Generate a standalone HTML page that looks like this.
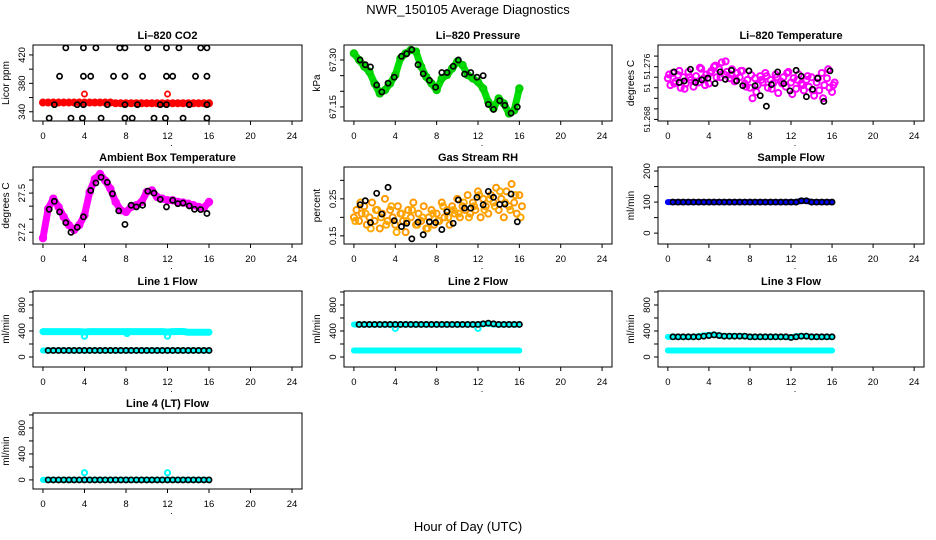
<!DOCTYPE html>
<html><head><meta charset="utf-8"><style>
html,body{margin:0;padding:0;background:#fff}
svg{display:block;font-family:"Liberation Sans",sans-serif}
</style></head><body>
<svg id="chart" width="936" height="540" viewBox="0 0 936 540" xmlns="http://www.w3.org/2000/svg">
<rect width="936" height="540" fill="#fff"/>
<text x="468" y="14" text-anchor="middle" font-size="13">NWR_150105  Average Diagnostics</text>
<text x="468" y="531" text-anchor="middle" font-size="13">Hour of Day (UTC)</text>
</svg>
<script>
// ---- data ----
const halfHours=[0,0.5,1,1.5,2,2.5,3,3.5,4,4.5,5,5.5,6,6.5,7,7.5,8,8.5,9,9.5,10,10.5,11,11.5,12,12.5,13,13.5,14,14.5,15,15.5,16];
const halfHoursB=[0.125,0.625,1.125,1.625,2.125,2.625,3.125,3.625,4.125,4.625,5.125,5.625,6.125,6.625,7.125,7.625,8.125,8.625,9.125,9.625,10.125,10.625,11.125,11.625,12.125,12.625,13.125,13.625,14.125,14.625,15.125,15.625,16.125];
const quarterHours=[0,0.25,0.5,0.75,1,1.25,1.5,1.75,2,2.25,2.5,2.75,3,3.25,3.5,3.75,4,4.25,4.5,4.75,5,5.25,5.5,5.75,6,6.25,6.5,6.75,7,7.25,7.5,7.75,8,8.25,8.5,8.75,9,9.25,9.5,9.75,10,10.25,10.5,10.75,11,11.25,11.5,11.75,12,12.25,12.5,12.75,13,13.25,13.5,13.75,14,14.25,14.5,14.75,15,15.25,15.5,15.75,16,16.25];
const blackHours=[0.6,1.1,1.6,2.2,2.7,3.3,3.9,4.6,5.1,5.6,6.2,6.7,7.3,7.9,8.5,9.0,9.6,10.1,10.7,11.3,11.9,12.5,13.0,13.5,14.1,14.6,15.2,15.8];
const flowBlackHours=[0.5,1,1.5,2,2.5,3,3.5,4,4.5,5,5.5,6,6.5,7,7.5,8,8.5,9,9.5,10,10.5,11,11.5,12,12.5,13,13.5,14,14.5,15,15.5,16];
const xTicks=[0,4,8,12,16,20,24];

const co2Red=[353,353,353,353,353,353,353,353,353,353,353,353,353,353,352,352,352,352,352,352,352,352,352,352,352,352,352,352,352,352,352,352,352];
const co2SpikeH=[4,12];
const co2SpikeV=[365,365];
const co2BlackH=[2.2,3.9,5.1,7.4,7.9,10.1,11.9,13.1,15.2,15.8,1.6,3.9,4.6,6.8,7.9,9.6,11.9,12.5,14.7,15.8,1.1,3.3,3.9,6.2,7.9,9.1,11.3,11.9,14.1,15.8,0.6,2.7,3.8,5.6,7.9,8.6,10.7,11.8,13.5,15.8];
const co2BlackV=[430,430,430,430,430,430,430,430,430,430,390,390,390,390,390,390,390,390,390,390,350,350,350,350,350,350,350,350,350,350,331,331,331,331,331,331,331,331,331,331];

const presGreen=[67.321,67.300,67.279,67.262,67.225,67.193,67.204,67.225,67.252,67.305,67.321,67.332,67.327,67.279,67.246,67.225,67.204,67.241,67.252,67.273,67.295,67.284,67.252,67.241,67.230,67.209,67.166,67.145,67.177,67.161,67.129,67.139,67.209];
const presBlack=[67.30,67.285,67.278,67.22,67.198,67.226,67.245,67.312,67.32,67.333,67.285,67.256,67.235,67.213,67.26,67.26,67.28,67.30,67.255,67.26,67.245,67.25,67.158,67.142,67.17,67.155,67.13,67.15];

const tempPink=[51.2738,51.2725,51.2748,51.2732,51.2744,51.2720,51.2740,51.2728,51.2750,51.2735,51.2722,51.2742,51.2730,51.2756,51.2738,51.2745,51.2728,51.2752,51.2760,51.2740,51.2755,51.2768,51.2745,51.2750,51.2738,51.2755,51.2732,51.2748,51.2740,51.2752,51.2728,51.2735,51.2720,51.2700,51.2738,51.2725,51.2742,51.2730,51.2748,51.2720,51.2735,51.2728,51.2745,51.2710,51.2732,51.2740,51.2722,51.2750,51.2730,51.2738,51.2718,51.2745,51.2728,51.2715,51.2735,51.2722,51.2740,51.2705,51.2730,51.2715,51.2748,51.2725,51.2738,51.2720,51.2712,51.2730];
const tempPink2=[51.2745,51.2728,51.2752,51.2718,51.2740,51.2732,51.2758,51.2725,51.2748,51.2762,51.2740,51.2770,51.2745,51.2735,51.2752,51.2722,51.2744,51.2712,51.2735,51.2742,51.2718,51.2740,51.2728,51.2748,51.2708,51.2735,51.2725,51.2742,51.2715,51.2738,51.2700,51.2755,51.2725];
const tempBlack=[51.2750,51.2730,51.2733,51.2755,51.2730,51.2735,51.2738,51.2728,51.2750,51.2736,51.2753,51.2733,51.2724,51.2752,51.2724,51.2705,51.2685,51.2726,51.2750,51.2728,51.2714,51.2753,51.2742,51.2703,51.2717,51.2738,51.2694,51.2752];

const ambPink=[27.155,27.38,27.457,27.394,27.318,27.255,27.218,27.255,27.331,27.508,27.608,27.646,27.596,27.533,27.432,27.369,27.356,27.394,27.407,27.432,27.508,27.520,27.470,27.457,27.445,27.445,27.432,27.427,27.419,27.407,27.394,27.387,27.432];
const ambBlack=[27.376,27.437,27.356,27.273,27.200,27.238,27.318,27.520,27.578,27.621,27.583,27.495,27.364,27.260,27.407,27.394,27.407,27.515,27.500,27.452,27.394,27.445,27.419,27.424,27.402,27.376,27.374,27.344];

const rhOrange=[0.20,0.22,0.19,0.21,0.23,0.18,0.20,0.24,0.19,0.22,0.17,0.21,0.25,0.19,0.22,0.20,0.18,0.23,0.21,0.19,0.16,0.22,0.20,0.24,0.18,0.21,0.19,0.23,0.17,0.20,0.22,0.18,0.21,0.19,0.24,0.20,0.22,0.18,0.23,0.21,0.25,0.20,0.23,0.22,0.26,0.21,0.24,0.22,0.27,0.20,0.25,0.23,0.21,0.26,0.24,0.28,0.22,0.25,0.20,0.27,0.23,0.29,0.24,0.21,0.26,0.23];
const rhOrange2=[0.19,0.24,0.21,0.17,0.22,0.20,0.18,0.23,0.16,0.21,0.19,0.22,0.18,0.20,0.17,0.21,0.19,0.23,0.20,0.22,0.21,0.24,0.20,0.23,0.26,0.22,0.25,0.23,0.27,0.24,0.22,0.26,0.20];
const rhBlack=[0.234,0.245,0.186,0.265,0.209,0.281,0.191,0.175,0.184,0.142,0.187,0.153,0.188,0.186,0.167,0.215,0.184,0.247,0.225,0.225,0.254,0.234,0.270,0.254,0.235,0.236,0.263,0.188];

const sampleBlue=[100,100,100,100,100,100,100,100,100,100,100,100,100,100,100,100,100,100,100,100,100,100,100,100,100,100,104,104,100,100,100,100,100];
const sampleBlack=[100,100,100,100,100,100,100,100,100,100,100,100,100,100,100,100,100,100,100,100,100,100,100,100,100,104,104,100,100,100,100,100];

const line1Upper=[390,390,390,390,390,390,390,390,385,390,390,390,390,390,390,390,390,390,390,390,390,390,390,390,385,390,392,392,380,380,380,380,380];
const line1Lower=[100,100,100,100,100,100,100,100,100,100,100,100,100,100,100,100,100,100,100,100,100,100,100,100,100,100,100,100,100,100,100,100,100];
const line1Black=[100,100,100,100,100,100,100,100,100,100,100,100,100,100,100,100,100,100,100,100,100,100,100,100,100,100,100,100,100,100,100,100];
const line1DipH=[4,8.1,12];
const line1DipV=[320,360,320];

const line2Upper=[500,500,500,500,500,500,500,500,500,500,500,500,500,500,500,500,500,500,500,500,500,500,500,500,500,510,510,500,500,500,500,500,500];
const line2Lower=[100,100,100,100,100,100,100,100,100,100,100,100,100,100,100,100,100,100,100,100,100,100,100,100,100,100,100,100,100,100,100,100,100];
const line2Black=[500,500,500,500,500,500,500,500,500,500,500,500,500,500,500,500,500,500,500,500,500,500,500,500,510,520,510,500,500,500,500,500];
const line2DipH=[4,12];
const line2DipV=[440,440];

const line3Upper=[310,310,310,310,310,310,320,330,340,340,330,320,320,320,320,320,310,310,310,310,310,310,310,310,300,320,320,320,310,310,310,310,310];
const line3Lower=[100,100,100,100,100,100,100,100,100,100,100,100,100,100,100,100,100,100,100,100,100,100,100,100,100,100,100,100,100,100,100,100,100];
const line3Black=[310,310,310,310,310,310,320,330,340,330,320,320,320,320,320,310,310,310,310,310,310,310,310,300,310,320,320,310,310,310,310,310];

const line4Cyan=[0,0,0,0,0,0,0,0,0,0,0,0,0,0,0,0,0,0,0,0,0,0,0,0,0,0,0,0,0,0,0,0,0];
const line4Black=[0,0,0,0,0,0,0,0,0,0,0,0,0,0,0,0,0,0,0,0,0,0,0,0,0,0,0,0,0,0,0,0];
const line4SpikeH=[4,12];
const line4SpikeV=[110,110];

// ---- rendering ----
const NS="http://www.w3.org/2000/svg";
const svg=document.getElementById('chart');
const cols=[[33,302],[344,612],[658,924]];
const rows=[[45,121],[167,244],[291,367],[413,489]];

function el(tag,attrs,parent){const e=document.createElementNS(NS,tag);for(const k in attrs)e.setAttribute(k,attrs[k]);(parent||svg).appendChild(e);return e;}

function makePanel(name,title,col,row,ydom,yticks,ylabels,ylab,yfs){
  const fs=yfs||9.5;
  const g=el('g',{});
  
  
  const [x0,x1]=cols[col],[y0,y1]=rows[row];
  const X=h=>x0+(h+0.96)/25.92*(x1-x0);
  const Y=v=>y1-(v-ydom[0])/(ydom[1]-ydom[0])*(y1-y0);
  const t=el('text',{x:(x0+x1)/2,y:y0-6,'text-anchor':'middle','font-size':11,'font-weight':'bold'},g);
  t.textContent=title;
  
  
  const box=el('rect',{x:x0,y:y0,width:x1-x0,height:y1-y0,fill:'none',stroke:'#000','stroke-width':1},g);
  
  
  const xa=el('g',{},g);
  
  
  el('line',{x1:X(0),x2:X(24),y1:y1,y2:y1,stroke:'#000'},xa);
  xTicks.forEach(v=>{
    el('line',{x1:X(v),x2:X(v),y1:y1,y2:y1+4,stroke:'#000'},xa);
    const tx=el('text',{x:X(v),y:y1+18,'text-anchor':'middle','font-size':9.5},xa);tx.textContent=v;
  });
  const dot=el('text',{x:(x0+x1)/2+4,y:y1+25,'text-anchor':'middle','font-size':9},xa);dot.textContent='.';
  const ya=el('g',{},g);
  
  
  el('line',{x1:x0,x2:x0,y1:Y(yticks[0]),y2:Y(yticks[yticks.length-1]),stroke:'#000'},ya);
  yticks.forEach((v,i)=>{
    el('line',{x1:x0-4,x2:x0,y1:Y(v),y2:Y(v),stroke:'#000'},ya);
    if(ylabels[i]){const ty=el('text',{x:x0-8,y:Y(v),'text-anchor':'middle','font-size':fs,transform:`rotate(-90 ${x0-8} ${Y(v)})`},ya);ty.textContent=ylabels[i];}
  });
  const yl=el('text',{x:x0-24,y:(y0+y1)/2,'text-anchor':'middle','font-size':10,transform:`rotate(-90 ${x0-24} ${(y0+y1)/2})`},g);
  yl.textContent=ylab;
  
  
  const clip='clip-'+name;
  const cp=el('clipPath',{id:clip},g);el('rect',{x:x0,y:y0,width:x1-x0,height:y1-y0},cp);
  const data=el('g',{'clip-path':`url(#${clip})`},g);
  return {X,Y,data};
}
function band(p,name,hs,vs,color,w){
  const pl=el('polyline',{points:hs.map((h,i)=>p.X(h)+','+p.Y(vs[i])).join(' '),fill:'none',stroke:color,'stroke-width':w,'stroke-linejoin':'round','stroke-linecap':'round'},p.data);
  
  
}
function pts(p,name,hs,vs,color,r,sw){
  const g=el('g',{},p.data);
  
  
  hs.forEach((h,i)=>{el('circle',{cx:p.X(h),cy:p.Y(vs[i]),r:r,fill:'none',stroke:color,'stroke-width':sw},g);});
}
const BK=(p,n,h,v)=>pts(p,n,h,v,'#000',2.6,1.7);

// CO2
let p=makePanel('co2','Li\u2013820 CO2',0,0,[327,434],[340,360,380,400,420],['340','','380','','420'],'Licor ppm');
band(p,'co2-red-band',halfHours,co2Red,'#ff0000',6);
pts(p,'co2-red-points',halfHours,co2Red,'#ff0000',3,2);
pts(p,'co2-red-spikes',co2SpikeH,co2SpikeV,'#ff0000',2.6,1.7);
BK(p,'co2-black-points',co2BlackH,co2BlackV);
// Pressure
p=makePanel('pressure','Li\u2013820 Pressure',1,0,[67.105,67.348],[67.15,67.20,67.25,67.30],['67.15','','','67.30'],'kPa');
band(p,'pressure-green-band',halfHours,presGreen,'#00dd00',7);
pts(p,'pressure-green-points',halfHours,presGreen,'#00cc00',3.2,2);
BK(p,'pressure-black-points',blackHours,presBlack);
// Li temperature
p=makePanel('li-temp','Li\u2013820 Temperature',2,0,[51.2657,51.2801],[51.278,51.276,51.274,51.272,51.270,51.268,51.266],['','51.276','','51','','','51.268'],'degrees C',8.5);
pts(p,'li-temp-pink-points',quarterHours,tempPink,'#ff00ff',3,2);
pts(p,'li-temp-pink-points-2',halfHoursB,tempPink2,'#ff00ff',3,2);
BK(p,'li-temp-black-points',blackHours,tempBlack);
// Ambient
p=makePanel('ambient','Ambient Box Temperature',0,1,[27.11,27.70],[27.2,27.3,27.4,27.5,27.6],['27.2','','','27.5',''],'degrees C');
band(p,'ambient-pink-band',halfHours,ambPink,'#ff00ff',7);
pts(p,'ambient-pink-points',halfHours,ambPink,'#ff00ff',3.2,2);
BK(p,'ambient-black-points',blackHours,ambBlack);
// RH
p=makePanel('rh','Gas Stream RH',1,1,[0.128,0.336],[0.15,0.20,0.25,0.30],['0.15','','0.25',''],'percent');
pts(p,'rh-orange-points',quarterHours,rhOrange,'#ff9900',3,2);
pts(p,'rh-orange-points-2',halfHoursB,rhOrange2,'#ffaa00',3,2);
BK(p,'rh-black-points',blackHours,rhBlack);
// Sample flow
p=makePanel('sample-flow','Sample Flow',2,1,[-35,213],[0,50,100,150,200],['0','','100','','200'],'ml/min');
band(p,'sample-blue-band',halfHours,sampleBlue,'#0000ff',6);
BK(p,'sample-black-points',flowBlackHours,sampleBlack);
const FT=[0,200,400,600,800,1000],FL=['0','','400','','800',''];
// Line1
p=makePanel('line1','Line 1 Flow',0,2,[-154,1015],FT,FL,'ml/min');
band(p,'line1-upper-band',halfHours,line1Upper,'#00ffff',7);
band(p,'line1-lower-band',halfHours,line1Lower,'#00ffff',6);
pts(p,'line1-dips',line1DipH,line1DipV,'#00ffff',2.6,2);
BK(p,'line1-black-points',flowBlackHours,line1Black);
// Line2
p=makePanel('line2','Line 2 Flow',1,2,[-154,1015],FT,FL,'ml/min');
band(p,'line2-upper-band',halfHours,line2Upper,'#00ffff',6);
band(p,'line2-lower-band',halfHours,line2Lower,'#00ffff',6);
pts(p,'line2-dips',line2DipH,line2DipV,'#00ffff',2.6,2);
BK(p,'line2-black-points',flowBlackHours,line2Black);
// Line3
p=makePanel('line3','Line 3 Flow',2,2,[-154,1015],FT,FL,'ml/min');
band(p,'line3-upper-band',halfHours,line3Upper,'#00ffff',6);
band(p,'line3-lower-band',halfHours,line3Lower,'#00ffff',6);
BK(p,'line3-black-points',flowBlackHours,line3Black);
// Line4
p=makePanel('line4','Line 4 (LT) Flow',0,3,[-140,1030],FT,FL,'ml/min');
band(p,'line4-cyan-band',halfHours,line4Cyan,'#00ffff',6);
pts(p,'line4-spikes',line4SpikeH,line4SpikeV,'#00ffff',2.6,2);
BK(p,'line4-black-points',flowBlackHours,line4Black);
</script>
</body></html>
